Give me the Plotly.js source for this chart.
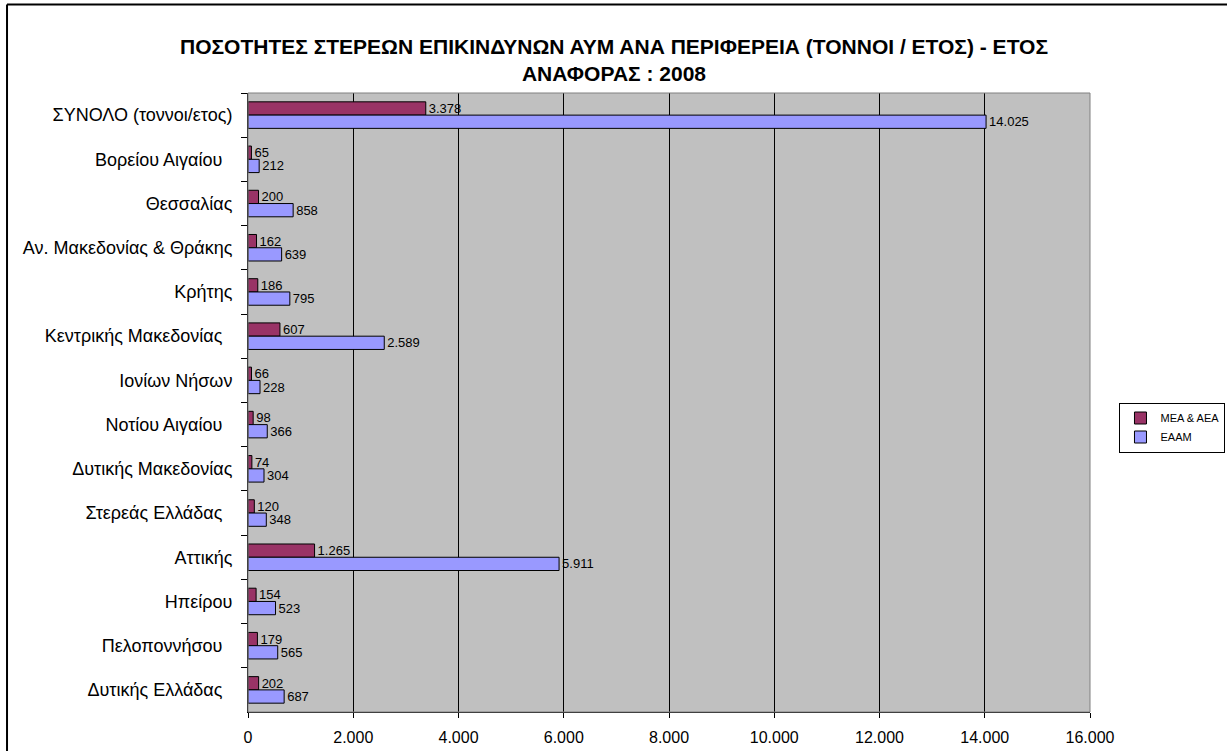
<!DOCTYPE html>
<html>
<head>
<meta charset="utf-8">
<script src="https://cdn.plot.ly/plotly-3.0.1.min.js"></script>
<style>
  html, body { margin: 0; padding: 0; background: #fff; }
  #chart { width: 1227px; height: 751px; }
</style>
</head>
<body>
<div id="chart"></div>
<script>
// regions, listed top to bottom as in the chart
const regions = [
  'ΣΥΝΟΛΟ (τοννοι/ετος)',
  'Βορείου Αιγαίου\u00a0\u00a0',
  'Θεσσαλίας',
  'Αν. Μακεδονίας & Θράκης',
  'Κρήτης',
  'Κεντρικής Μακεδονίας\u00a0\u00a0',
  'Ιονίων Νήσων',
  'Νοτίου Αιγαίου\u00a0\u00a0',
  'Δυτικής Μακεδονίας',
  'Στερεάς Ελλάδας\u00a0\u00a0',
  'Αττικής',
  'Ηπείρου',
  'Πελοποννήσου\u00a0\u00a0',
  'Δυτικής Ελλάδας\u00a0\u00a0'
];

const meaAea = [3378, 65, 200, 162, 186, 607, 66, 98, 74, 120, 1265, 154, 179, 202];
const eaam = [14025, 212, 858, 639, 795, 2589, 228, 366, 304, 348, 5911, 523, 565, 687];

const seriesNames = ['MEA & AEA', 'EAAM'];
const xTicks = [0, 2000, 4000, 6000, 8000, 10000, 12000, 14000, 16000];

const font = 'Liberation Sans, Arial, sans-serif';

function barTrace(name, values, color) {
  return {
    type: 'bar',
    orientation: 'h',
    name: name,
    y: regions,
    x: values,
    marker: { color: color, line: { color: '#000', width: 1 } },
    text: values,
    texttemplate: '%{x:,}',
    textposition: 'outside',
    constraintext: 'none',
    cliponaxis: false,
    textfont: { family: font, size: 13, color: '#000' },
    hoverinfo: 'x+name'
  };
}

const traces = [
  barTrace(seriesNames[0], meaAea, '#993366'),
  barTrace(seriesNames[1], eaam, '#9999FF')
];

const layout = {
  width: 1227,
  height: 751,
  separators: ',.',
  font: { family: font, color: '#000' },
  paper_bgcolor: '#fff',
  plot_bgcolor: '#C0C0C0',
  margin: { l: 248, r: 137, t: 93, b: 39, autoexpand: false },
  barmode: 'group',
  bargap: 0.4,
  bargroupgap: 0,
  title: {
    text: 'ΠΟΣΟΤΗΤΕΣ ΣΤΕΡΕΩΝ ΕΠΙΚΙΝΔΥΝΩΝ ΑΥΜ ΑΝΑ ΠΕΡΙΦΕΡΕΙΑ (ΤΟΝΝΟΙ / ΕΤΟΣ) - ΕΤΟΣ<br>ΑΝΑΦΟΡΑΣ : 2008',
    font: { family: font, size: 21, color: '#000', weight: 'bold' },
    x: 614 / 1227, xref: 'container', xanchor: 'center',
    y: 1 - 54 / 751, yanchor: 'top'
  },
  xaxis: {
    range: [0, 16000],
    tickvals: xTicks,
    tickformat: ',d',
    showgrid: true,
    gridcolor: '#000',
    gridwidth: 1,
    zeroline: false,
    showline: true,
    linecolor: '#000',
    linewidth: 1,
    ticks: 'outside',
    ticklen: 5,
    tickcolor: '#000',
    ticklabelstandoff: 6,
    tickfont: { family: font, size: 16, color: '#000' },
    fixedrange: true
  },
  yaxis: {
    type: 'category',
    autorange: 'reversed',
    showgrid: false,
    zeroline: false,
    showline: true,
    linecolor: '#000',
    linewidth: 1,
    ticks: 'outside',
    tickson: 'boundaries',
    ticklen: 6,
    tickcolor: '#000',
    ticklabelstandoff: 11,
    tickfont: { family: font, size: 18, color: '#000' },
    fixedrange: true
  },
  showlegend: true,
  legend: {
    x: 1.035, xanchor: 'left',
    y: 0.5, yanchor: 'top',
    bgcolor: '#fff',
    bordercolor: '#000',
    borderwidth: 1,
    font: { family: font, size: 11, color: '#000' },
    itemwidth: 30,
    tracegroupgap: 0
  },
  shapes: [
    // grey frame of the plot area (top and right)
    { type: 'rect', xref: 'paper', yref: 'paper', x0: 0, x1: 1, y0: 0, y1: 1,
      line: { color: '#808080', width: 1 }, layer: 'above' },
    // outer chart border (left and top)
    { type: 'line', xref: 'paper', yref: 'paper', x0: -0.2862, x1: -0.2862, y0: -0.2, y1: 1.143,
      line: { color: '#000', width: 2 } },
    { type: 'line', xref: 'paper', yref: 'paper', x0: -0.2862, x1: 1.3, y0: 1.143, y1: 1.143,
      line: { color: '#000', width: 2 } }
  ]
};

Plotly.newPlot('chart', traces, layout, { displayModeBar: false, staticPlot: true });
</script>
</body>
</html>
